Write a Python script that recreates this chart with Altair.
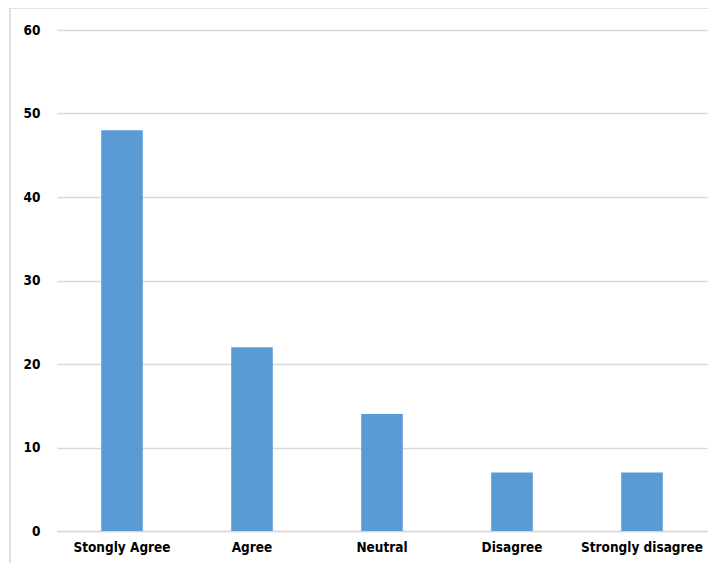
import altair as alt
import pandas as pd

categories = ["Stongly Agree", "Agree", "Neutral", "Disagree", "Strongly disagree"]
values = [48, 22, 14, 7, 7]
y_ticks = [0, 10, 20, 30, 40, 50, 60]

df = pd.DataFrame({"category": categories, "value": values})

FONT = "Liberation Sans Narrow, DejaVu Sans Condensed, sans-serif"

bars = alt.Chart(df).mark_bar(color="#5b9bd5").encode(
    x=alt.X("category:N", sort=categories, title=None,
            scale=alt.Scale(paddingInner=0.68, paddingOuter=0.34),
            axis=alt.Axis(labelAngle=0, labelFont=FONT, labelFontWeight="bold",
                          labelFontSize=13.5, labelColor="#000000", labelPadding=9,
                          ticks=False, domain=True, domainColor="#d9d9d9",
                          domainWidth=1.5, grid=False)),
    y=alt.Y("value:Q", title=None,
            scale=alt.Scale(domain=[0, 60], nice=False),
            axis=alt.Axis(values=y_ticks, labelFont=FONT, labelFontWeight="bold",
                          labelFontSize=13.5, labelColor="#000000", labelPadding=17,
                          ticks=False, domain=False, gridColor="#d9d9d9",
                          gridWidth=1.5)),
)

frame = alt.Chart(pd.DataFrame({"k": [0]})).mark_rect(
    fill=None, stroke="#d9d9d9", strokeWidth=1.5
).encode(
    x=alt.value(-47), x2=alt.value(760), y=alt.value(-22), y2=alt.value(600)
)

chart = alt.layer(frame, bars).properties(
    width=650, height=501,
    padding={"left": 49, "top": 22, "right": 2, "bottom": 32},
    autosize=alt.AutoSizeParams(type="none"),
    background="#ffffff",
).configure_view(stroke=None)

chart.save("out.html", embed_options={"renderer": "svg", "actions": False})
